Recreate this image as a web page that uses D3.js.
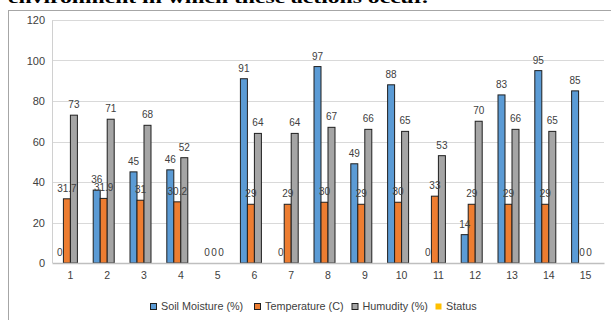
<!DOCTYPE html>
<html>
<head>
<meta charset="utf-8">
<script src="https://cdnjs.cloudflare.com/ajax/libs/d3/7.8.5/d3.min.js"></script>
<style>
  html, body { margin: 0; padding: 0; background: #fff; }
  svg { display: block; }
</style>
</head>
<body>
<div id="chart"></div>
<script>
// Readings per sample (1..15)
const samples = ["1","2","3","4","5","6","7","8","9","10","11","12","13","14","15"];
const soilMoisture = [0, 36, 45, 46, 0, 91, 0, 97, 49, 88, 0, 14, 83, 95, 85];
const temperature  = [31.7, 31.9, 31, 30.2, 0, 29, 29, 30, 29, 30, 33, 29, 29, 29, 0];
const humidity     = [73, 71, 68, 52, 0, 64, 64, 67, 66, 65, 53, 70, 66, 65, 0];
const status       = [0, 0, 0, 0, 0, 0, 0, 0, 0, 0, 0, 0, 0, 0, 0];
const yTicks = [0, 20, 40, 60, 80, 100, 120];

const seriesNames  = ["Soil Moisture (%)", "Temperature (C)", "Humudity (%)", "Status"];
const seriesValues = [soilMoisture, temperature, humidity, status];
const seriesColors = ["#5B9BD5", "#ED7D31", "#A5A5A5", "#FFC000"];
// Which series print a value above each bar; which zero values are printed
const showLabels = [true, true, true, false];
const zeroLabels = [
  [true, false, false, true, true, false, true, false, false, false, true, false, false, false, false],
  [false, false, false, false, true, false, false, false, false, false, false, false, false, false, true],
  [false, false, false, false, true, false, false, false, false, false, false, false, false, false, true],
  []
];

const W = 611, H = 320;
const plot = { left: 52, right: 604, top: 20, bottom: 263 };

const svg = d3.select("#chart").append("svg")
  .attr("width", W).attr("height", H);

// Heading line running off the top edge
svg.append("text")
  .attr("x", 8).attr("y", 3)
  .attr("font-family", "'Liberation Serif', 'Times New Roman', serif")
  .attr("font-weight", "bold")
  .attr("font-size", 17)
  .attr("textLength", 420)
  .attr("lengthAdjust", "spacingAndGlyphs")
  .attr("fill", "#000")
  .text("environment in which these actions occur.");

// Chart frame
svg.append("rect")
  .attr("x", 8.5).attr("y", 10.5)
  .attr("width", 620).attr("height", 330)
  .attr("fill", "none")
  .attr("stroke", "#a6a6a6")
  .attr("stroke-width", 1);

const x = d3.scaleBand()
  .domain(samples)
  .range([plot.left, plot.right])
  .paddingInner(0).paddingOuter(0);

const xInner = d3.scaleBand()
  .domain(d3.range(seriesNames.length))
  .range([0, x.bandwidth()])
  .paddingInner(0).paddingOuter(0.63);

const y = d3.scaleLinear()
  .domain([0, 120])
  .range([plot.bottom, plot.top]);

// Horizontal gridlines
svg.append("g")
  .selectAll("line")
  .data(yTicks.filter(t => t > 0))
  .join("line")
  .attr("x1", plot.left).attr("x2", plot.right)
  .attr("y1", d => Math.round(y(d)) + 0.5)
  .attr("y2", d => Math.round(y(d)) + 0.5)
  .attr("stroke", "#d9d9d9")
  .attr("stroke-width", 1);

// Left edge of plot area
svg.append("line")
  .attr("x1", plot.left + 0.5).attr("x2", plot.left + 0.5)
  .attr("y1", Math.round(y(120)) + 0.5).attr("y2", plot.bottom)
  .attr("stroke", "#d0d0d0");

// Y axis labels
const yAxis = svg.append("g")
  .attr("transform", `translate(${plot.left},0)`)
  .call(d3.axisLeft(y).tickValues(yTicks).tickSize(0).tickPadding(7));
yAxis.select(".domain").remove();
yAxis.selectAll("text")
  .attr("font-family", "'Liberation Sans', Arial, sans-serif")
  .attr("font-size", 11)
  .attr("fill", "#404040");

// Bars, one group per series
seriesValues.forEach((vals, s) => {
  const rows = samples.map((c, i) => ({ c, i, v: vals[i] }));
  svg.append("g")
    .selectAll("rect")
    .data(rows.filter(d => d.v > 0))
    .join("rect")
    .attr("x", d => x(d.c) + xInner(s))
    .attr("y", d => y(d.v))
    .attr("width", xInner.bandwidth())
    .attr("height", d => y(0) - y(d.v))
    .attr("fill", seriesColors[s])
    .attr("stroke", "#1f1f1f")
    .attr("stroke-width", 1);
});

// Value labels above the bars
seriesValues.forEach((vals, s) => {
  if (!showLabels[s]) return;
  const rows = samples.map((c, i) => ({ c, i, v: vals[i] }));
  svg.append("g")
    .selectAll("text")
    .data(rows.filter(d => d.v > 0 || zeroLabels[s][d.i]))
    .join("text")
    .attr("x", d => x(d.c) + xInner(s) + xInner.bandwidth() / 2)
    .attr("y", d => y(d.v) - 7)
    .attr("text-anchor", "middle")
    .attr("font-family", "'Liberation Sans', Arial, sans-serif")
    .attr("font-size", 10)
    .attr("fill", "#404040")
    .text(d => d.v);
});

// X axis
const xAxis = svg.append("g")
  .attr("transform", `translate(0,${plot.bottom})`)
  .call(d3.axisBottom(x).tickSize(0).tickPadding(9));
xAxis.select(".domain")
  .attr("stroke", "#bfbfbf")
  .attr("stroke-width", 1.5);
xAxis.selectAll("text")
  .attr("font-family", "'Liberation Sans', Arial, sans-serif")
  .attr("font-size", 10.5)
  .attr("fill", "#404040");

// Legend
const legendX = [150, 254, 351.5, 435];
const legend = svg.append("g");
seriesNames.forEach((name, s) => {
  legend.append("rect")
    .attr("x", legendX[s] + 0.5).attr("y", 303.5)
    .attr("width", 6).attr("height", 6)
    .attr("fill", seriesColors[s])
    .attr("stroke", s < 3 ? "#1f1f1f" : "none")
    .attr("stroke-width", 1);
  legend.append("text")
    .attr("x", legendX[s] + 11).attr("y", 310)
    .attr("font-family", "'Liberation Sans', Arial, sans-serif")
    .attr("font-size", 10.8)
    .attr("fill", "#404040")
    .text(name);
});
</script>
</body>
</html>
